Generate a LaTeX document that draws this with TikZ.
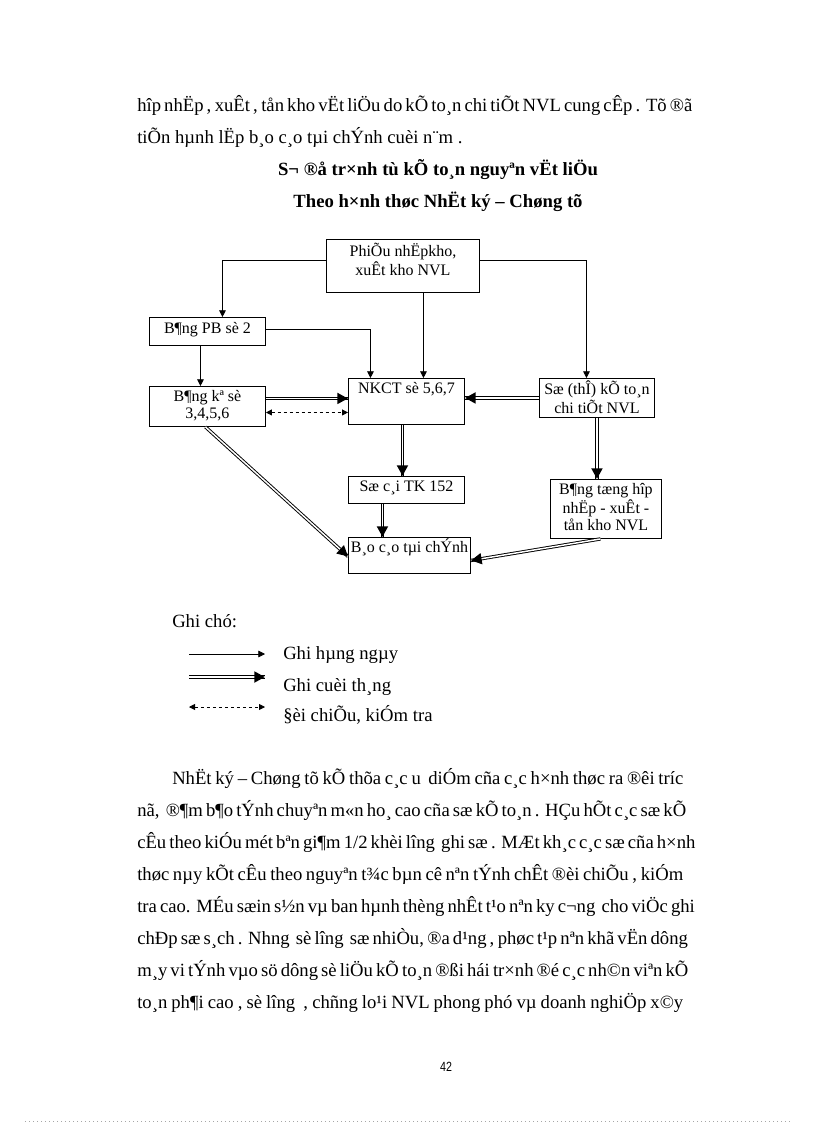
\documentclass[tikz,border=0pt]{standalone}
\usepackage{fontspec}
\setmainfont{Liberation Serif}
\newfontfamily\pnfont{Liberation Sans}
\usetikzlibrary{arrows.meta,decorations.markings}
\begin{document}
\begin{tikzpicture}[x=0.75pt,y=-0.75pt,
  txt/.style={inner sep=0pt, font=\fontsize{14}{16}\selectfont},
  ttl/.style={inner sep=0pt, font=\fontsize{14}{16}\selectfont\bfseries},
  box/.style={draw, line width=0.7pt, inner sep=0pt, anchor=north west, font=\fontsize{12}{13}\selectfont},
  thinarrow/.style={line width=0.6pt, -{Triangle[length=5pt,width=5pt]}},
  dbl/.style={draw, double=white, double distance=1.1pt, line width=0.7pt,
    postaction={decorate, decoration={markings, mark=at position 1 with {\arrow{Triangle[length=8pt,width=8pt]}}}}},
  dsh/.style={line width=0.6pt, dash pattern=on 2.25pt off 2.25pt, {Triangle[length=4.5pt,width=4.5pt]}-{Triangle[length=4.5pt,width=4.5pt]}}
]
\useasboundingbox (0,0) rectangle (816,1123);

% top text
\node[txt, anchor=base west] (t1) at (137,112) {\makebox[408pt][s]{hîp nhËp , xuÊt , tån kho vËt liÖu do kÕ to¸n chi tiÕt NVL cung cÊp . Tõ ®ã}};
\node[txt, anchor=base west] (t2) at (137,144) {tiÕn hµnh lËp b¸o c¸o tµi chÝnh cuèi n¨m .};
\node[ttl, anchor=base] (h1) at (438,176) {S¬ ®å tr×nh tù kÕ to¸n nguyªn vËt liÖu};
\node[ttl, anchor=base] (h2) at (438,208) {Theo h×nh thøc NhËt ký – Chøng tõ};

% boxes
\node[box, minimum width=114.75pt, text height=12.75pt, text depth=27pt] (phieu) at (326,239)
  {\begin{tabular}[t]{@{}c@{}}PhiÕu nhËpkho,\\ xuÊt kho NVL\end{tabular}};
\node[box, minimum width=87pt, text height=12pt, text depth=9pt] (pb) at (149,317) {B¶ng PB sè 2};
\node[box, minimum width=87pt, text height=11.25pt, text depth=18.75pt] (bke) at (149,386)
  {\begin{tabular}[t]{@{}c@{}}B¶ng kª sè\\ 3,4,5,6\end{tabular}};
\node[box, minimum width=87pt, text height=11.25pt, text depth=23.25pt] (nkct) at (348,378) {NKCT sè 5,6,7};
\node[box, minimum width=86.25pt, text height=12pt, text depth=17.25pt] (so) at (539,378)
  {\begin{tabular}[t]{@{}c@{}}Sæ (thÎ) kÕ to¸n\\ chi tiÕt NVL\end{tabular}};
\node[box, minimum width=87pt, text height=11.25pt, text depth=9pt] (socai) at (348,476) {Sæ c¸i TK 152};
\node[box, minimum width=83.25pt, text height=11.25pt, text depth=33pt] (bth) at (550,479)
  {\begin{tabular}[t]{@{}c@{}}B¶ng tæng hîp\\ nhËp - xuÊt -\\ tån kho NVL\end{tabular}};
\node[box, minimum width=91.5pt, text height=11.25pt, text depth=15.75pt] (bc) at (348,537) {B¸o c¸o tµi chÝnh};

% connectors
\draw[thinarrow] ([yshift=4.125pt]phieu.west) -| ([xshift=11.25pt]pb.north);
\draw[thinarrow] ([yshift=4.125pt]phieu.east) -| ([xshift=-7.875pt]so.north);
\draw[thinarrow] ([xshift=15.375pt]phieu.south) -- ([xshift=15.375pt]phieu.south |- nkct.north);
\draw[thinarrow] ([yshift=1.5pt]pb.east) -| ([xshift=-27pt]nkct.north);
\draw[thinarrow] ([xshift=-5.25pt]pb.south) -- ([xshift=-5.25pt]bke.north);
\draw[dbl] ([yshift=6pt]bke.east) -- ([yshift=6pt]bke.east -| nkct.west);
\draw[dsh] ([yshift=-4.5pt]bke.east) -- ([yshift=-4.5pt]bke.east -| nkct.west);
\draw[dbl] (so.west) -- (so.west -| nkct.east);
\draw[dbl] ([xshift=-3pt]nkct.south) -- ([xshift=-3pt]nkct.south |- socai.north);
\draw[dbl] ([xshift=-18pt]socai.south) -- ([xshift=-18pt]socai.south |- bc.north);
\draw[dbl] (so.south) -- (so.south |- bth.north);
\draw[dbl] ([xshift=-1.5pt]bke.south) -- ([yshift=-0.75pt]bc.west);
\draw[dbl] ([xshift=-4.125pt]bth.south) -- ([yshift=-3.75pt]bc.east);

% legend
\node[txt, anchor=base west] (gc) at (172,627) {Ghi chó:};
\coordinate (la1) at (189,654); \coordinate (lb1) at (265,654);
\coordinate (la2) at (189,677); \coordinate (lb2) at (265,677);
\coordinate (la3) at (189,707); \coordinate (lb3) at (265,707);
\draw[thinarrow] (la1) -- (lb1);
\draw[dbl] (la2) -- (lb2);
\draw[dsh] (la3) -- (lb3);
\node[txt, anchor=base west] (g1) at (283,659) {Ghi hµng ngµy};
\node[txt, anchor=base west] (g2) at (283,691) {Ghi cuèi th¸ng};
\node[txt, anchor=base west] (g3) at (283,721) {§èi chiÕu, kiÓm tra};

% body paragraph
\node[txt, anchor=base west] (b1) at (172,784) {\makebox[383.25pt][s]{NhËt ký – Chøng tõ kÕ thõa c¸c u\ \ diÓm cña c¸c h×nh thøc ra ®êi tríc}};
\node[txt, anchor=base west] (b2) at (137,816) {\makebox[409.5pt][s]{nã,\ \ ®¶m b¶o tÝnh chuyªn m«n ho¸ cao cña sæ kÕ to¸n . HÇu hÕt c¸c sæ kÕ}};
\node[txt, anchor=base west] (b3) at (137,848) {\makebox[409.5pt][s]{cÊu theo kiÓu mét bªn gi¶m 1/2 khèi lîng\ \ ghi sæ . MÆt kh¸c c¸c sæ cña h×nh}};
\node[txt, anchor=base west] (b4) at (137,880) {\makebox[409.5pt][s]{thøc nµy kÕt cÊu theo nguyªn t¾c bµn cê nªn tÝnh chÊt ®èi chiÕu , kiÓm}};
\node[txt, anchor=base west] (b5) at (137,912) {\makebox[409.5pt][s]{tra cao. MÉu sæin s½n vµ ban hµnh thèng nhÊt t¹o nªn ky c¬ng\ \ cho viÖc ghi}};
\node[txt, anchor=base west] (b6) at (137,944) {\makebox[409.5pt][s]{chÐp sæ s¸ch . Nhng\ \ sè lîng\ \ sæ nhiÒu, ®a d¹ng , phøc t¹p nªn khã vËn dông}};
\node[txt, anchor=base west] (b7) at (137,976) {\makebox[409.5pt][s]{m¸y vi tÝnh vµo sö dông sè liÖu kÕ to¸n ®ßi hái tr×nh ®é c¸c nh©n viªn kÕ}};
\node[txt, anchor=base west] (b8) at (137,1008) {\makebox[409.5pt][s]{to¸n ph¶i cao , sè lîng\ \ , chñng lo¹i NVL phong phó vµ doanh nghiÖp x©y}};

% page number and footer rule
\node[inner sep=0pt, anchor=base, font=\pnfont\fontsize{10}{12}\selectfont] (pn) at (446,1071) {\scalebox{0.8}[1]{42}};
\draw[gray!70, line width=0.5pt, dash pattern=on 0.6pt off 2.4pt] (25,1121) -- (792,1121);
\end{tikzpicture}
\end{document}
